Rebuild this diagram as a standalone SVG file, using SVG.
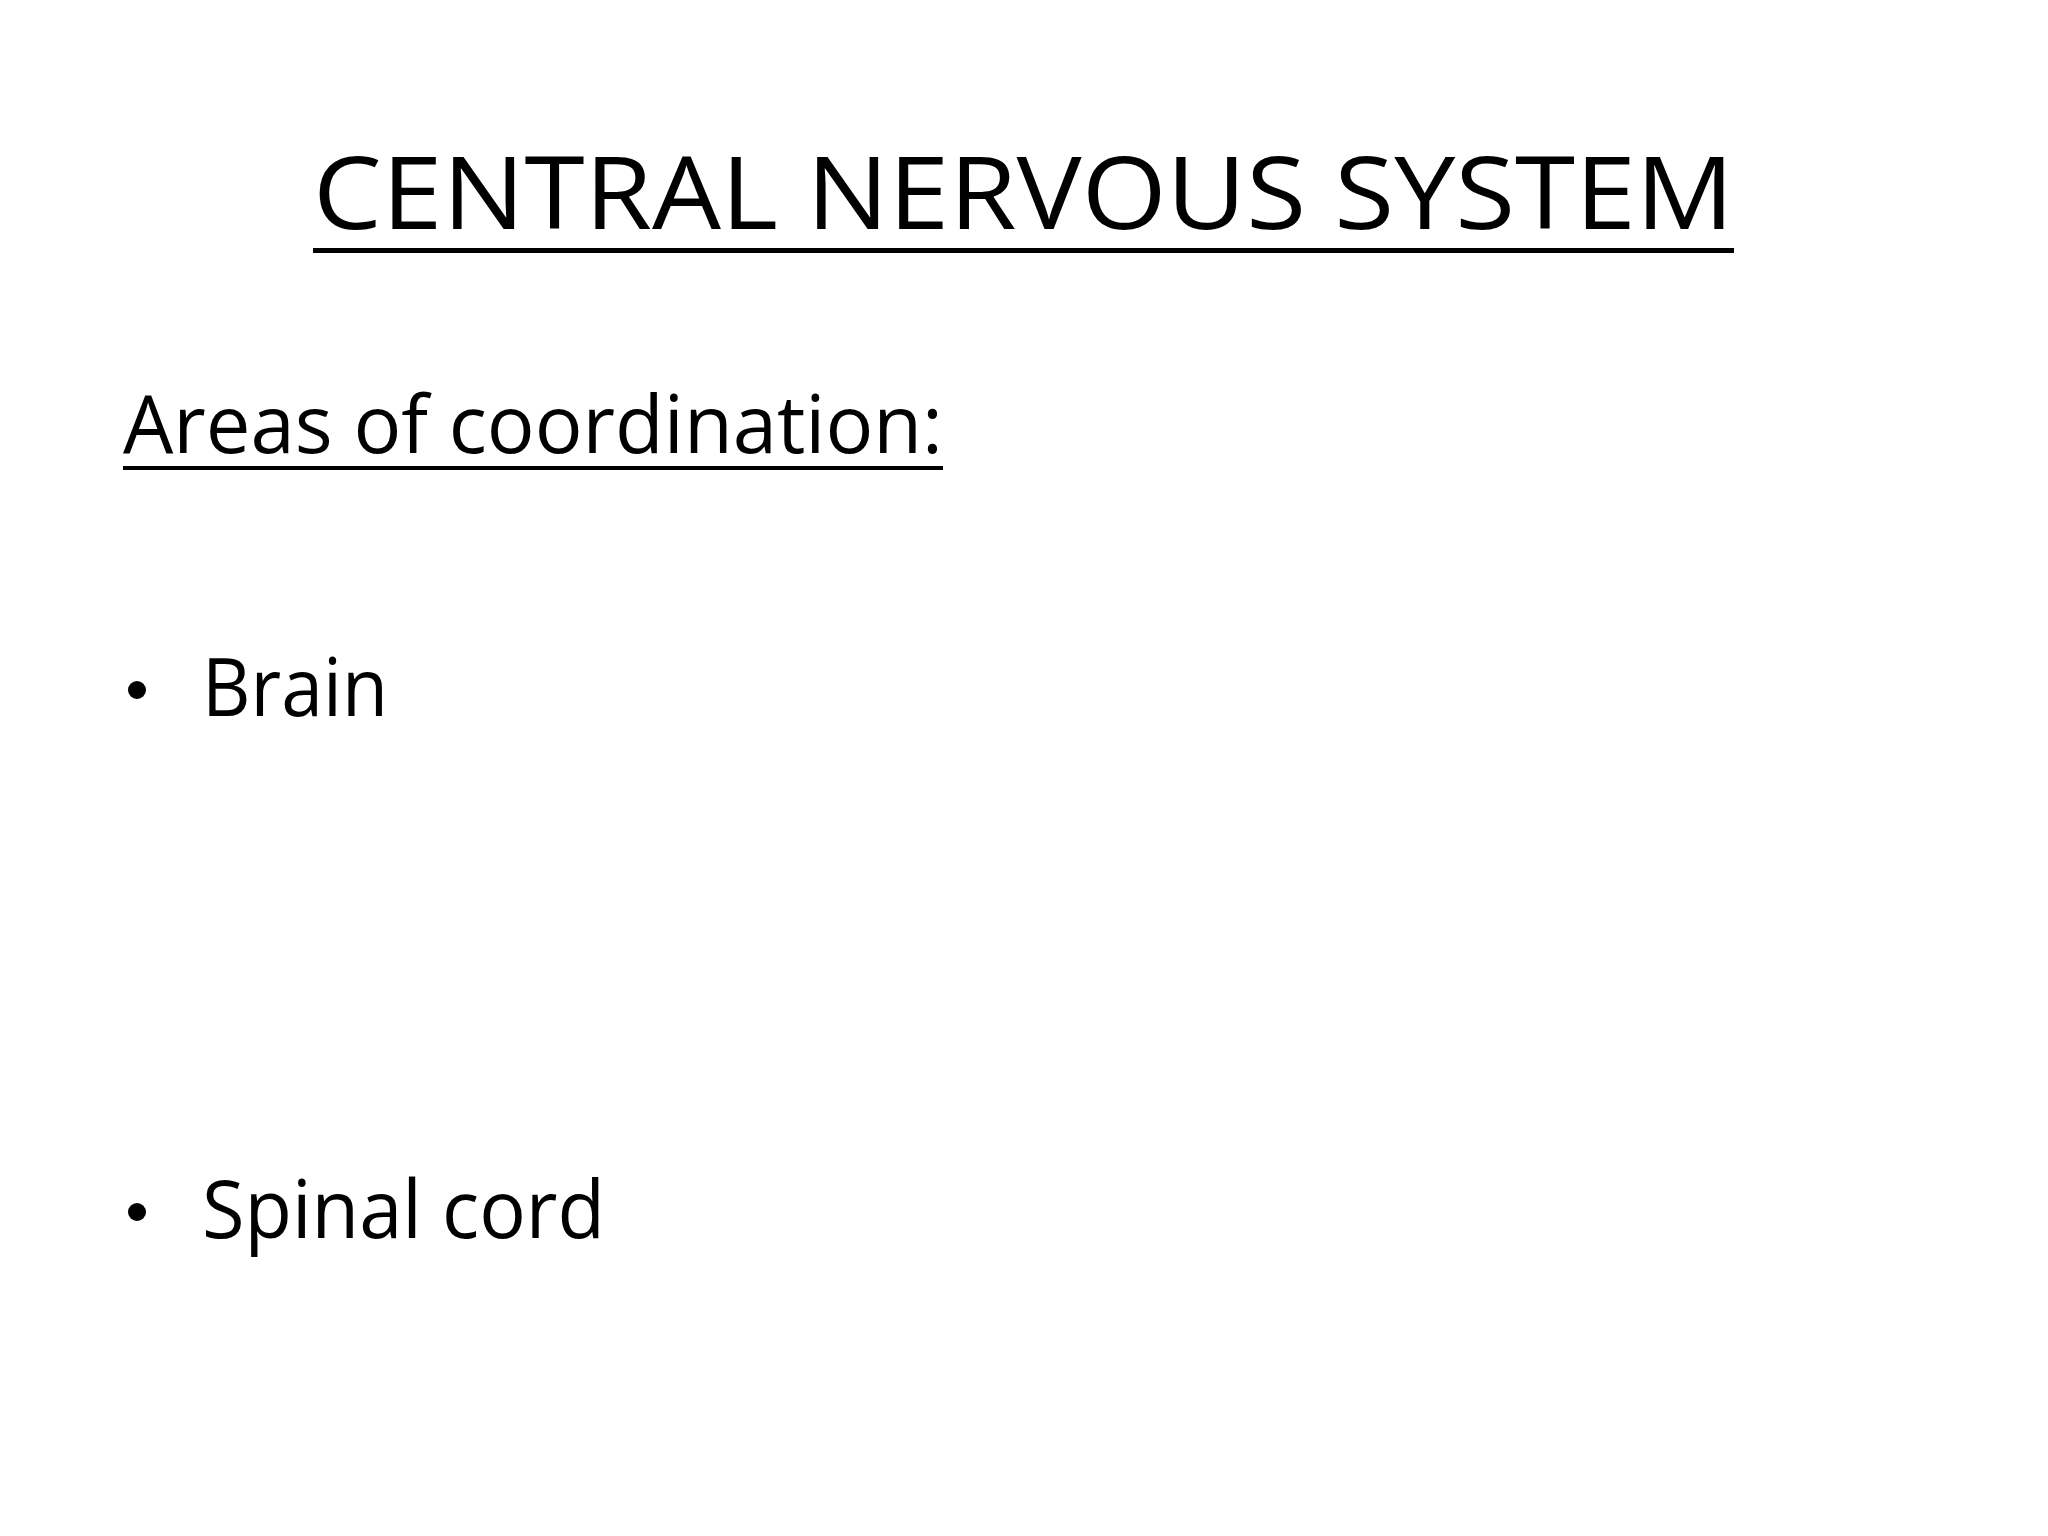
<svg xmlns="http://www.w3.org/2000/svg" width="2048" height="1536" viewBox="0 0 2048 1536">
<style>
text{font-family:"Open Sans","Liberation Sans",sans-serif;fill:#000}
.t{font-size:100px}
.b{font-size:80px}
</style>
<rect width="2048" height="1536" fill="#fff"/>
<g id="title">
<text class="t" x="313" y="229" textLength="1421" lengthAdjust="spacingAndGlyphs">CENTRAL NERVOUS SYSTEM</text>
<rect x="313" y="248" width="1421" height="5"/>
</g>
<g id="subtitle">
<text class="b" x="123" y="453" textLength="820" lengthAdjust="spacingAndGlyphs">Areas of coordination:</text>
<rect x="123" y="466" width="820" height="4"/>
</g>
<g id="brain">
<circle cx="137" cy="690" r="9"/>
<text class="b" x="202" y="716" textLength="186" lengthAdjust="spacingAndGlyphs">Brain</text>
</g>
<g id="spinal">
<circle cx="137" cy="1212" r="9"/>
<text class="b" x="202" y="1238" textLength="403" lengthAdjust="spacingAndGlyphs">Spinal cord</text>
</g>
</svg>
